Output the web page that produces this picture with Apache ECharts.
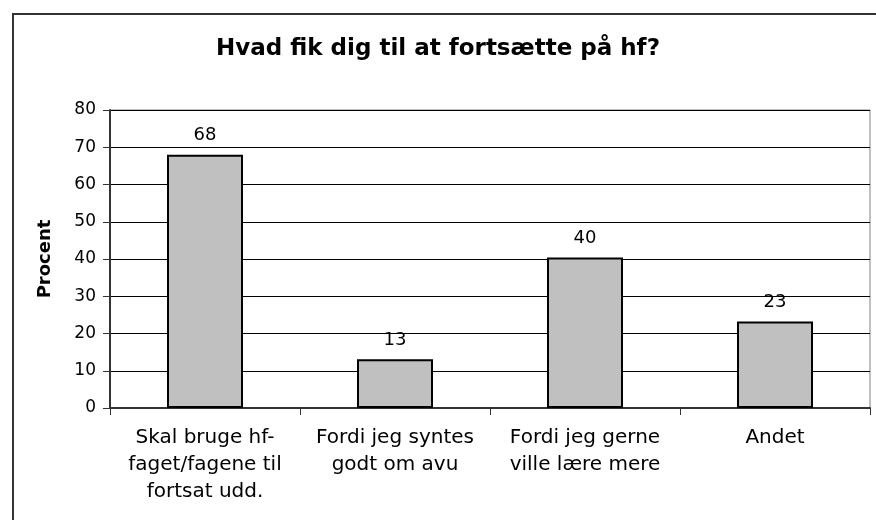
<!DOCTYPE html>
<html>
<head>
<meta charset="utf-8">
<script src="https://cdn.jsdelivr.net/npm/echarts@6/dist/echarts.min.js"></script>
<style>
html,body{margin:0;padding:0;background:#fff;}
#chart{width:876px;height:520px;}
</style>
</head>
<body>
<div id="chart"></div>
<script>
const titleText = 'Hvad fik dig til at fortsætte på hf?';
const categories = ['Skal bruge hf-\nfaget/fagene til\nfortsat udd.', 'Fordi jeg syntes\ngodt om avu', 'Fordi jeg gerne\nville lære mere', 'Andet'];
const values = [68, 13.1, 40.4, 23.2];
const yTicks = [0, 10, 20, 30, 40, 50, 60, 70, 80];
const yAxisName = 'Procent';

const FONT = 'DejaVu Sans';
const chart = echarts.init(document.getElementById('chart'), null, {renderer: 'canvas'});
chart.setOption({
  backgroundColor: '#fff',
  animation: false,
  graphic: [{
    type: 'rect', left: 12, top: 13, z: -10,
    shape: {width: 1000, height: 1000},
    style: {fill: '#fff', stroke: '#333', lineWidth: 2}
  }],
  title: {
    text: titleText, left: 'center', top: 33,
    textStyle: {fontFamily: FONT, fontWeight: 'bold', fontSize: 23, color: '#000'}
  },
  grid: {left: 110, right: 6, top: 110, bottom: 112, show: true, borderColor: '#808080', borderWidth: 1},
  xAxis: {
    type: 'category', data: categories,
    axisLine: {lineStyle: {color: '#333', width: 2}},
    axisTick: {show: true, length: 7, lineStyle: {color: '#333'}},
    axisLabel: {fontFamily: FONT, fontSize: 20, color: '#000', lineHeight: 27, margin: 16, interval: 0}
  },
  yAxis: {
    type: 'value', min: yTicks[0], max: yTicks[yTicks.length - 1], interval: 10,
    name: yAxisName, nameLocation: 'middle', nameGap: 56, nameRotate: 90,
    nameTextStyle: {fontFamily: FONT, fontWeight: 'bold', fontSize: 18, color: '#000'},
    axisLine: {show: true, lineStyle: {color: '#333', width: 2}},
    axisTick: {show: true, length: 7, lineStyle: {color: '#333'}},
    axisLabel: {fontFamily: FONT, fontSize: 17, color: '#000', margin: 14},
    splitLine: {lineStyle: {color: '#000', width: 1}}
  },
  series: [{
    type: 'bar', data: values, barWidth: '40%',
    itemStyle: {color: '#c0c0c0', borderColor: '#000', borderWidth: 2},
    label: {show: true, position: 'top', distance: 10, fontFamily: FONT, fontSize: 18, color: '#000',
      formatter: p => Math.round(p.value)}
  }]
});
</script>
</body>
</html>
